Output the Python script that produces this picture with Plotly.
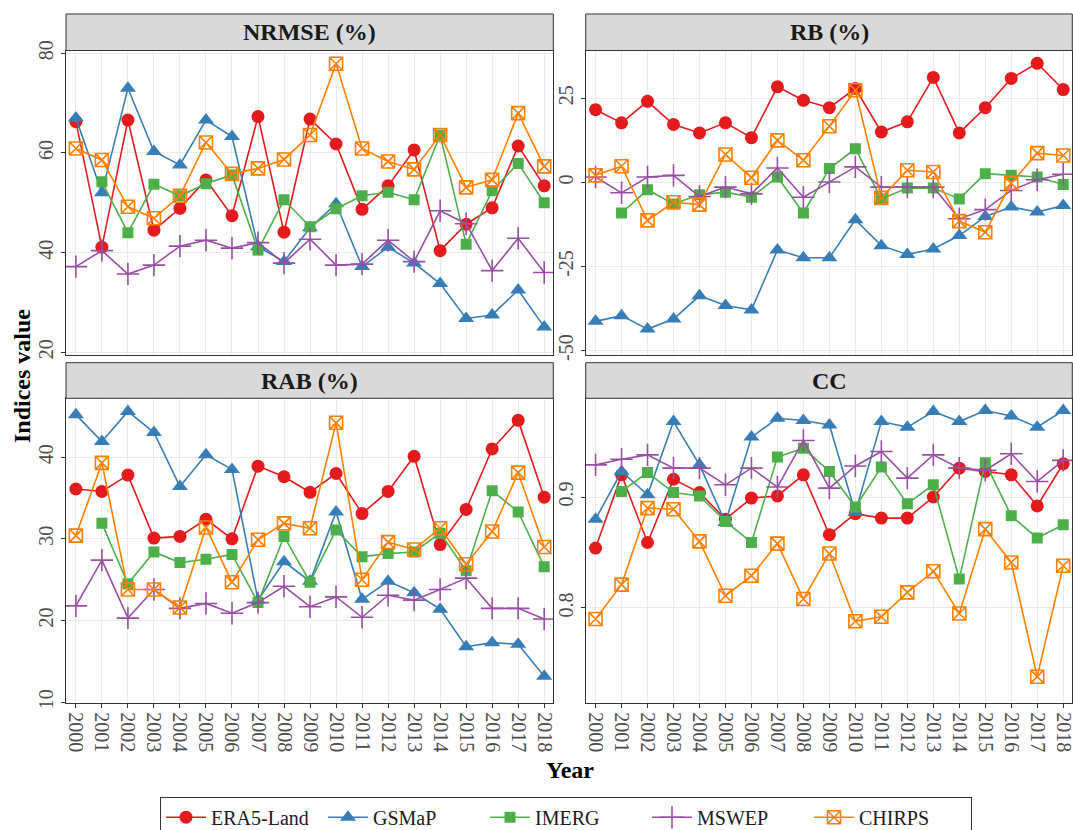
import plotly.graph_objects as go

years = list(range(2000, 2019))
year_labels = [str(y) for y in years]
products = ["ERA5-Land", "GSMaP", "IMERG", "MSWEP", "CHIRPS"]

# ---------------- NRMSE (%) ----------------
nrmse_era5 = [66.3, 41.1, 66.6, 44.5, 48.9, 54.6, 47.4, 67.3, 44.1, 66.8,
              61.8, 48.7, 53.4, 60.6, 40.4, 45.7, 49.0, 61.4, 53.4]
nrmse_gsmap = [67.0, 52.0, 73.0, 60.3, 57.6, 66.6, 63.3, 41.2, 38.2, 45.0,
               49.8, 37.2, 41.1, 37.9, 33.8, 26.8, 27.5, 32.5, 25.1]
nrmse_imerg = [None, 54.2, 44.0, 53.7, 51.4, 53.8, 55.6, 40.5, 50.6, 45.2,
               48.8, 51.4, 52.1, 50.6, 63.6, 41.7, 52.4, 57.9, 50.0]
nrmse_mswep = [37.2, 40.4, 35.7, 37.5, 41.3, 42.5, 40.9, 42.0, 37.9, 42.7,
               37.5, 37.7, 42.5, 38.2, 48.4, 45.8, 36.4, 42.9, 36.0]
nrmse_chirps = [60.9, 58.6, 49.2, 46.9, 51.4, 62.1, 55.8, 56.9, 58.7, 63.6,
                77.9, 60.9, 58.3, 56.7, 63.6, 53.1, 54.6, 68.0, 57.3]

# ---------------- RB (%) ----------------
rb_era5 = [21.6, 17.7, 24.1, 17.2, 14.7, 17.7, 13.3, 28.4, 24.4, 22.2,
           27.9, 15.0, 18.0, 31.2, 14.7, 22.2, 30.9, 35.4, 27.6]
rb_gsmap = [-41.3, -39.6, -43.6, -40.6, -33.7, -36.6, -37.9, -20.1, -22.4, -22.4,
            -11.1, -18.8, -21.4, -19.8, -15.8, -10.1, -7.3, -8.8, -6.9]
rb_imerg = [None, -9.1, -2.2, -6.4, -3.7, -2.9, -4.4, 1.6, -9.1, 4.1,
            10.0, -4.9, -1.7, -1.7, -4.9, 2.6, 2.1, 1.6, -0.6]
rb_mswep = [1.6, -3.1, 1.6, 2.1, -4.2, -1.4, -3.4, 4.3, -4.4, 0.1,
            4.6, -1.4, -1.4, -1.4, -10.8, -8.1, -2.4, 0.8, 2.4]
rb_chirps = [2.1, 4.8, -11.3, -5.9, -6.6, 8.3, 1.4, 12.5, 6.6, 16.7,
             27.4, -4.6, 3.6, 3.1, -11.5, -14.8, -0.2, 8.7, 8.0]

# ---------------- RAB (%) ----------------
rab_era5 = [36.1, 35.8, 37.8, 30.1, 30.3, 32.4, 30.0, 38.9, 37.6, 35.7,
            38.0, 33.1, 35.8, 40.1, 29.3, 33.6, 41.0, 44.5, 35.1]
rab_gsmap = [45.2, 41.9, 45.6, 43.0, 36.4, 40.3, 38.5, 22.5, 27.2, 24.8,
             33.3, 22.6, 24.8, 23.4, 21.4, 16.8, 17.3, 17.1, 13.2]
rab_imerg = [None, 31.9, 24.5, 28.4, 27.1, 27.5, 28.1, 22.2, 30.3, 24.7,
             31.1, 27.8, 28.2, 28.4, 30.7, 26.1, 35.9, 33.3, 26.6]
rab_mswep = [21.8, 27.4, 20.3, 23.8, 21.5, 22.1, 20.9, 22.2, 24.2, 21.7,
             22.9, 20.4, 23.1, 22.5, 23.8, 25.2, 21.5, 21.5, 20.2]
rab_chirps = [30.4, 39.3, 23.8, 23.8, 21.6, 31.4, 24.7, 29.9, 31.9, 31.3,
              44.2, 25.0, 29.6, 28.7, 31.3, 26.9, 30.9, 38.1, 29.0]

# ---------------- CC ----------------
cc_era5 = [0.854, 0.920, 0.859, 0.916, 0.904, 0.880, 0.899, 0.901, 0.920, 0.866,
           0.885, 0.881, 0.881, 0.900, 0.926, 0.923, 0.920, 0.892, 0.930]
cc_gsmap = [0.880, 0.923, 0.902, 0.968, 0.929, 0.877, 0.954, 0.971, 0.969, 0.965,
            0.886, 0.968, 0.963, 0.977, 0.968, 0.978, 0.973, 0.963, 0.978]
cc_imerg = [None, 0.905, 0.922, 0.904, 0.901, 0.878, 0.859, 0.936, 0.944, 0.923,
            0.891, 0.927, 0.894, 0.911, 0.826, 0.931, 0.883, 0.863, 0.875]
cc_mswep = [0.929, 0.934, 0.938, 0.926, 0.926, 0.911, 0.926, 0.909, 0.951, 0.908,
            0.928, 0.941, 0.917, 0.938, 0.926, 0.924, 0.939, 0.914, 0.933]
cc_chirps = [0.790, 0.821, 0.890, 0.889, 0.860, 0.811, 0.829, 0.858, 0.808, 0.849,
             0.788, 0.792, 0.814, 0.833, 0.795, 0.871, 0.841, 0.738, 0.838]

panel_titles = ["NRMSE (%)", "RB (%)", "RAB (%)", "CC"]
panel_series = [
    [nrmse_era5, nrmse_gsmap, nrmse_imerg, nrmse_mswep, nrmse_chirps],
    [rb_era5, rb_gsmap, rb_imerg, rb_mswep, rb_chirps],
    [rab_era5, rab_gsmap, rab_imerg, rab_mswep, rab_chirps],
    [cc_era5, cc_gsmap, cc_imerg, cc_mswep, cc_chirps],
]
panel_yticks = [[20, 40, 60, 80], [-50, -25, 0, 25], [10, 20, 30, 40], [0.8, 0.9]]
panel_yticktext = [["20", "40", "60", "80"], ["-50", "-25", "0", "25"],
                   ["10", "20", "30", "40"], ["0.8", "0.9"]]
panel_yrange = [[19.46, 80.56], [-51.3, 39.2], [9.88, 47.2], [0.714, 0.989]]

# ---------------- styling ----------------
W, H = 1073, 830
FONT = "Liberation Serif, Times New Roman, serif"
colors = ["#E41A1C", "#377EB8", "#4DAF4A", "#984EA3", "#FF7F00"]
symbols = ["circle", "triangle-up", "square", "cross-thin-open", "square-x-open"]
msizes = [13, 14, 11, 16, 13]

xdoms = [[66 / W, 553.3 / W], [585.7 / W, 1072.3 / W]]
ydoms = [[1 - 355 / H, 1 - 50.5 / H], [1 - 703.3 / H, 1 - 398.3 / H]]
strip_y = [[1 - 50.5 / H, 1 - 14 / H], [1 - 398.3 / H, 1 - 362.7 / H]]

fig = go.Figure()

for p in range(4):
    ax = "" if p == 0 else str(p + 1)
    for k, name in enumerate(products):
        mline = dict(width=1.6, color=colors[k]) if symbols[k].endswith("open") else dict(width=0)
        fig.add_trace(go.Scatter(
            x=years, y=panel_series[p][k], name=name,
            mode="lines+markers",
            line=dict(color=colors[k], width=1.6),
            marker=dict(symbol=symbols[k], size=msizes[k], color=colors[k], line=mline),
            legendgroup=name, showlegend=(p == 0),
            xaxis="x" + ax, yaxis="y" + ax,
        ))

layout = dict(
    template="none",
    width=W, height=H, autosize=False,
    margin=dict(l=0, r=0, t=0, b=0, pad=0, autoexpand=False),
    paper_bgcolor="white", plot_bgcolor="white",
    font=dict(family=FONT, color="#1A1A1A"),
    showlegend=True,
    legend=dict(orientation="h", x=160 / W, xanchor="left",
                y=1 - 796.7 / H, yanchor="top",
                bordercolor="#333333", borderwidth=1,
                font=dict(size=20, family=FONT, color="#1A1A1A"),
                itemwidth=40, traceorder="normal",
                entrywidth=107, entrywidthmode="pixels"),
)

shapes = []
annotations = []
for p in range(4):
    col = p % 2
    row = p // 2
    ax = "" if p == 0 else str(p + 1)
    bottom = row == 1
    layout["xaxis" + ax] = dict(
        domain=xdoms[col], anchor="y" + ax, automargin=False,
        range=[1999.62, 2018.35],
        tickmode="array", tickvals=years, ticktext=year_labels,
        tickangle=90, showticklabels=bottom, ticklabeloverflow="allow",
        ticks="outside" if bottom else "", ticklen=4, tickwidth=1, tickcolor="#333333",
        tickfont=dict(size=20, family=FONT, color="#4D4D4D"),
        showgrid=True, gridcolor="#EBEBEB", gridwidth=1,
        showline=True, linecolor="#333333", linewidth=1, mirror=True,
        zeroline=False,
    )
    layout["yaxis" + ax] = dict(
        domain=ydoms[row], anchor="x" + ax, automargin=False,
        range=panel_yrange[p],
        tickmode="array", tickvals=panel_yticks[p], ticktext=panel_yticktext[p],
        tickangle=-90, ticklabeloverflow="allow",
        ticks="outside", ticklen=4, tickwidth=1, tickcolor="#333333",
        tickfont=dict(size=20, family=FONT, color="#4D4D4D"),
        showgrid=True, gridcolor="#EBEBEB", gridwidth=1,
        showline=True, linecolor="#333333", linewidth=1, mirror=True,
        zeroline=False,
    )
    shapes.append(dict(type="rect", xref="paper", yref="paper",
                       x0=xdoms[col][0], x1=xdoms[col][1],
                       y0=strip_y[row][0], y1=strip_y[row][1],
                       fillcolor="#D9D9D9", line=dict(color="#333333", width=1),
                       layer="above"))
    annotations.append(dict(text="<b>" + panel_titles[p] + "</b>",
                            xref="paper", yref="paper",
                            x=(xdoms[col][0] + xdoms[col][1]) / 2,
                            y=(strip_y[row][0] + strip_y[row][1]) / 2,
                            xanchor="center", yanchor="middle", showarrow=False,
                            font=dict(size=24, family=FONT, color="#1A1A1A")))

annotations.append(dict(text="<b>Indices value</b>", xref="paper", yref="paper",
                        x=22 / W, y=1 - 376 / H, xanchor="center", yanchor="middle",
                        textangle=-90, showarrow=False,
                        font=dict(size=24, family=FONT, color="#000000")))
annotations.append(dict(text="<b>Year</b>", xref="paper", yref="paper",
                        x=570 / W, y=1 - 770 / H, xanchor="center", yanchor="middle",
                        showarrow=False,
                        font=dict(size=24, family=FONT, color="#000000")))

layout["shapes"] = shapes
layout["annotations"] = annotations
fig.update_layout(**layout)

fig.write_html("out.html",
               config={"displayModeBar": False},
               post_script="document.body.style.margin='0';document.body.style.overflow='hidden';")
